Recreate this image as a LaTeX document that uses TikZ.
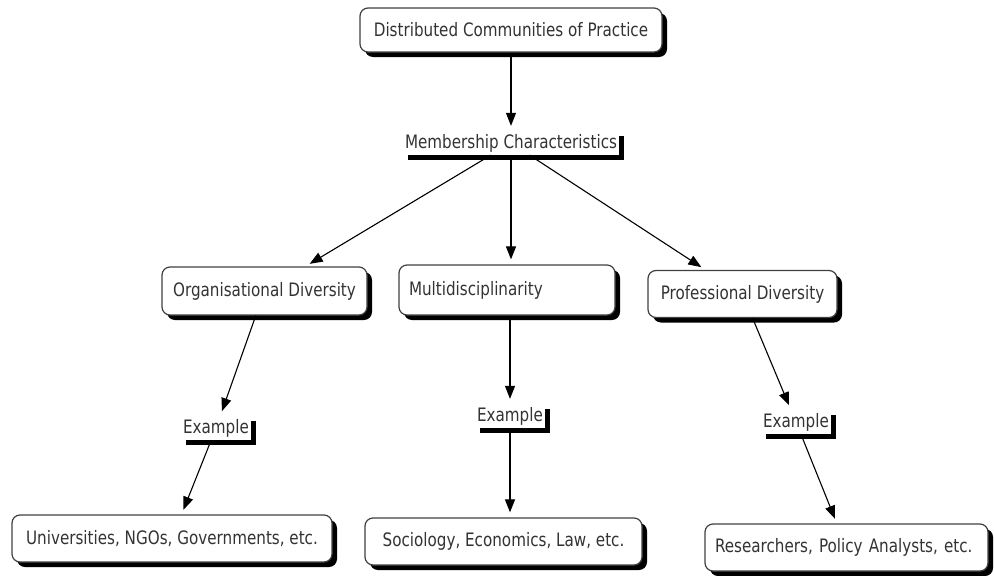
\documentclass[tikz,border=0pt]{standalone}
\usepackage{fontspec}
\setmainfont{DejaVu Sans}[FakeStretch=0.82]
\usetikzlibrary{arrows.meta,shadows}
\begin{document}
\begin{tikzpicture}[x=1pt,y=-1pt,
  font=\fontsize{18.5}{21}\selectfont,
  hardshadow/.style={drop shadow={shadow xshift=5pt,shadow yshift=-5pt,fill=black,opacity=1}},
  concept/.style={draw=black!75,line width=1.2pt,rounded corners=8pt,fill=white,
    hardshadow,inner sep=0pt,text=black!80},
  linker/.style={fill=white,inner xsep=2pt,inner ysep=3pt,hardshadow,text=black!80},
  conn/.style={-{Triangle[length=13pt,width=10pt]},line width=1.1pt,shorten >=5pt}]
\useasboundingbox (0,0) rectangle (994,576);

% concepts
\node[concept,minimum width=302pt,minimum height=44pt] (dcp) at (511,30) {Distributed Communities of Practice};
\node[linker] (mem) at (511,143) {Membership Characteristics};

\node[concept,minimum width=205pt,minimum height=48pt] (org) at (264.5,291) {Organisational Diversity};
\node[concept,minimum height=50pt,text width=196pt,inner xsep=10pt,align=left] (mul) at (507,290) {Multidisciplinarity};
\node[concept,minimum width=189pt,minimum height=47pt] (pro) at (742.5,294) {Professional Diversity};

\node[linker] (ex1) at (216,428) {Example};
\node[linker] (ex2) at (510,416) {Example};
\node[linker] (ex3) at (796,422) {Example};

\node[concept,minimum width=320pt,minimum height=47pt] (uni) at (172,538.5) {Universities, NGOs, Governments, etc.};
\node[concept,minimum width=277pt,minimum height=47pt] (soc) at (503.5,541.5) {Sociology, Economics, Law, etc.};
\node[concept,minimum height=47pt,text width=263pt,inner xsep=10pt,align=left] (res) at (846.5,547.5) {Researchers, Policy Analysts, etc.};

% links
\draw[conn] (dcp) -- (mem);
\draw[conn] (mem) -- (org);
\draw[conn] (mem) -- (mul.north -| mem.south);
\draw[conn] (mem) -- (pro);

\draw[conn] (org) -- (ex1);
\draw[conn] (mul.south -| ex2.north) -- (ex2);
\draw[conn] (pro) -- (ex3);

\draw[conn] (ex1) -- (uni);
\draw[conn] (ex2) -- (ex2 |- soc.north);
\draw[conn] (ex3) -- (res);
\end{tikzpicture}
\end{document}
